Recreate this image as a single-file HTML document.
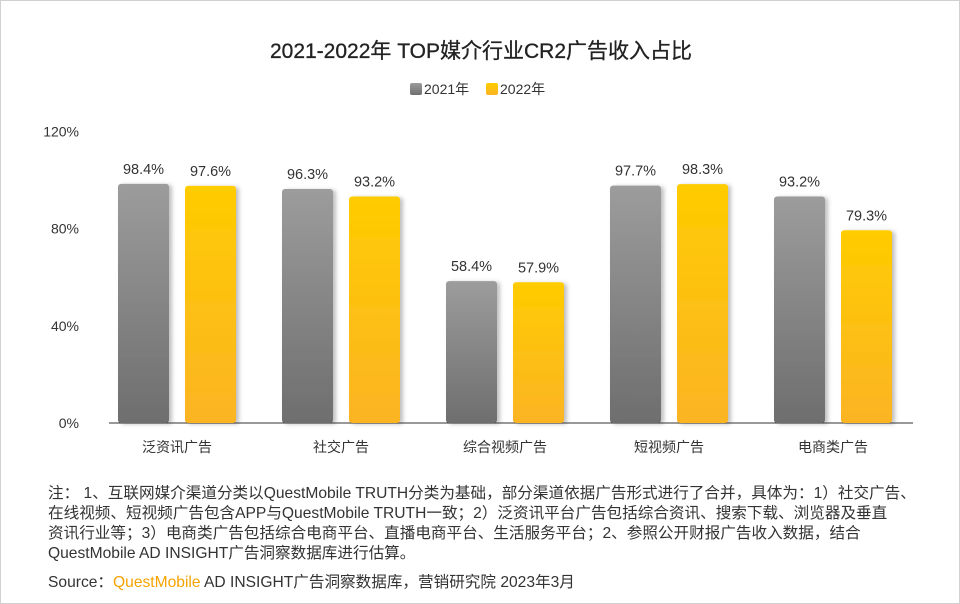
<!DOCTYPE html>
<html><head><meta charset="utf-8"><style>
body{margin:0;background:#fff;}
#wrap{position:relative;width:958px;height:602px;border:1px solid #d0d0d0;background:#fff;font-family:"Liberation Sans","Noto Sans CJK SC",sans-serif;overflow:hidden;}
.note{position:absolute;left:47px;top:483px;width:905px;font-size:15.6px;line-height:20px;color:#333;white-space:nowrap;}
.src{position:absolute;left:47px;top:569px;font-size:15.6px;color:#333;}
</style></head><body>
<div id="wrap">
<svg id="chart" width="958" height="470" style="position:absolute;left:0;top:0">
<defs>
<linearGradient id="gGray" x1="0" y1="0" x2="0" y2="1"><stop offset="0" stop-color="#9c9c9c"/><stop offset="1" stop-color="#6e6e6e"/></linearGradient>
<linearGradient id="gYel" x1="0" y1="0" x2="0" y2="1"><stop offset="0" stop-color="#ffcc00"/><stop offset="1" stop-color="#fbb424"/></linearGradient>
<filter id="sh" x="-20%" y="-5%" width="150%" height="120%"><feDropShadow dx="3" dy="1" stdDeviation="2" flood-color="#000" flood-opacity="0.25"/></filter>
</defs>
<text x="480" y="57" text-anchor="middle" font-size="21" fill="#222" stroke="#222" stroke-width="0.3">2021-2022年 TOP媒介行业CR2广告收入占比</text>
<g>
<rect x="409" y="82" width="12" height="12" rx="2" fill="url(#gGray)"/>
<text x="423" y="93" font-size="14" fill="#333">2021年</text>
<rect x="485" y="82" width="12" height="12" rx="2" fill="url(#gYel)"/>
<text x="499" y="93" font-size="14" fill="#333">2022年</text>
</g>
<g id="axes"></g>
<g id="bars"></g>
</svg>
<div class="note">注：&nbsp;1、互联网媒介渠道分类以QuestMobile TRUTH分类为基础，部分渠道依据广告形式进行了合并，具体为：1）社交广告、<br>在线视频、短视频广告包含APP与QuestMobile TRUTH一致；2）泛资讯平台广告包括综合资讯、搜索下载、浏览器及垂直<br>资讯行业等；3）电商类广告包括综合电商平台、直播电商平台、生活服务平台；2、参照公开财报广告收入数据，结合<br>QuestMobile AD INSIGHT广告洞察数据库进行估算。</div>
<div class="src">Source：<span style="color:#f5a300">QuestMobile</span> AD INSIGHT广告洞察数据库，营销研究院 2023年3月</div>
</div>
<script>
const categories=["泛资讯广告","社交广告","综合视频广告","短视频广告","电商类广告"];
const values2021=[98.4,96.3,58.4,97.7,93.2];
const values2022=[97.6,93.2,57.9,98.3,79.3];
const tickValues=[0,40,80,120];
const ns="http://www.w3.org/2000/svg";
const base=422,scale=2.43,x0=176,step=164,bw=51;
const y=v=>base-v*scale;
const xc=i=>x0+i*step;
function mk(tag,attrs,parent){const e=document.createElementNS(ns,tag);for(const k in attrs)e.setAttribute(k,attrs[k]);parent.appendChild(e);return e;}
const axes=document.getElementById('axes'),bars=document.getElementById('bars');
tickValues.forEach(t=>{
 const tx=mk('text',{x:78,y:y(t)+5,'text-anchor':'end','font-size':14,fill:'#333'},axes);
 tx.textContent=t+'%';
 
 
});
const ax=mk('line',{x1:108,x2:912,y1:base,y2:base,stroke:'#333','stroke-width':1},axes);


categories.forEach((c,i)=>{
 const tx=mk('text',{x:xc(i),y:base+29,'text-anchor':'middle','font-size':14,fill:'#333'},axes);
 tx.textContent=c;
 
 
 [[values2021[i],-bw-8+bw/2,'url(#gGray)','2021'],[values2022[i],8+bw/2,'url(#gYel)','2022']].forEach(([v,off,fill,yr])=>{
  const cx=xc(i)+off;
  const r=mk('rect',{x:cx-bw/2,y:y(v),width:bw,height:v*scale,rx:3,fill:fill,filter:'url(#sh)'},bars);
  
  
  const l=mk('text',{x:cx,y:y(v)-10,'text-anchor':'middle','font-size':14.5,fill:'#333'},bars);
  l.textContent=v.toFixed(1)+'%';
  
  
 });
});
</script>
</body></html>
